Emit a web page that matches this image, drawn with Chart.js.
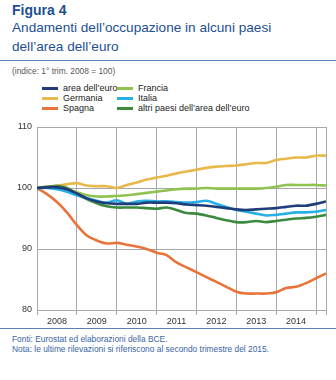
<!DOCTYPE html>
<html>
<head>
<meta charset="utf-8">
<script src="https://cdn.jsdelivr.net/npm/chart.js@4"></script>
<style>
  body { margin:0; width:336px; height:380px; background:#fff; font-family:"Liberation Sans", Arial, sans-serif; position:relative; overflow:hidden; }
  .abs { position:absolute; white-space:nowrap; }
  #fig { left:12px; top:2px; font-size:14px; font-weight:bold; color:#1d4f91; }
  #t1 { left:12px; top:20px; font-size:13.6px; color:#1d4f91; }
  #t2 { left:12px; top:39px; font-size:13.6px; color:#1d4f91; }
  #rule1 { left:0; top:60px; width:336px; height:1px; background:#5a7fb5; }
  #idx { left:12px; top:66px; font-size:8.4px; color:#555; }
  .leg { font-size:9px; color:#222; line-height:10px; }
  .leg i { display:inline-block; width:16px; height:3px; vertical-align:middle; margin-right:5px; }
  #rule2 { left:0; top:328px; width:336px; height:1px; background:#5a7fb5; }
  .foot { left:12px; font-size:8.4px; color:#3a64a6; }
  #chartBox { position:absolute; left:0; top:116px; width:336px; height:214px; }
</style>
</head>
<body>
<div class="abs" id="fig">Figura 4</div>
<div class="abs" id="t1">Andamenti dell’occupazione in alcuni paesi</div>
<div class="abs" id="t2">dell’area dell’euro</div>
<div class="abs" id="rule1"></div>
<div class="abs" id="idx">(indice: 1° trim. 2008 = 100)</div>
<div id="legend"></div>
<div class="abs" id="rule2"></div>
<div class="abs foot" style="top:334px">Fonti: Eurostat ed elaborazioni della BCE.</div>
<div class="abs foot" style="top:344px">Nota: le ultime rilevazioni si riferiscono al secondo trimestre del 2015.</div>
<div id="chartBox"><canvas id="c" width="336" height="214"></canvas></div>
<script>
// quarters 2008 Q1 .. 2015 Q2
const years = ["2008","2009","2010","2011","2012","2013","2014"];
const areaEuro = [100,100.1,100.1,99.8,99.1,98.3,97.8,97.5,97.4,97.4,97.4,97.6,97.6,97.6,97.5,97.3,97.2,97.1,96.9,96.7,96.5,96.4,96.5,96.6,96.7,96.9,97.1,97.1,97.4,97.8];
const germania = [100,100.2,100.4,100.6,100.8,100.4,100.3,100.3,100.0,100.5,100.9,101.4,101.7,102.0,102.4,102.7,103.0,103.3,103.5,103.6,103.7,103.9,104.1,104.1,104.6,104.8,105.0,105.0,105.3,105.3];
const spagna = [100,99.0,97.7,96.0,93.9,92.2,91.4,90.9,91.0,90.7,90.4,90.0,89.4,89.0,87.8,87.0,86.2,85.4,84.6,83.8,83.0,82.7,82.7,82.7,82.9,83.6,83.8,84.4,85.2,86.0];
const francia = [100,100.1,100.2,99.8,99.3,98.8,98.6,98.6,98.7,98.8,99.0,99.2,99.4,99.6,99.8,99.9,99.9,100.0,99.9,99.9,99.9,99.9,99.9,100.0,100.2,100.5,100.5,100.5,100.5,100.4];
const italia = [100,100.0,99.8,99.4,98.8,98.3,97.9,97.6,98.0,97.4,97.8,97.9,97.8,97.8,97.7,97.6,97.7,97.9,97.4,96.9,96.4,96.1,95.8,95.5,95.6,95.8,96.0,96.0,96.1,96.4];
const altri = [100,100.2,100.3,100.0,99.0,98.2,97.5,97.0,96.8,96.8,96.8,96.7,96.6,96.8,96.4,95.9,95.8,95.5,95.1,94.7,94.4,94.4,94.6,94.4,94.6,94.8,95.0,95.1,95.3,95.6];

const series = [
  {label:"area dell’euro", data:areaEuro, color:"#1f3d7a", col:0, row:0},
  {label:"Germania", data:germania, color:"#e8b84a", col:0, row:1},
  {label:"Spagna", data:spagna, color:"#e8743b", col:0, row:2},
  {label:"Francia", data:francia, color:"#8fc24f", col:1, row:0},
  {label:"Italia", data:italia, color:"#27b0e6", col:1, row:1},
  {label:"altri paesi dell’area dell’euro", data:altri, color:"#3b8a3e", col:1, row:2}
];

// legend
const legend = document.getElementById("legend");
series.forEach(s => {
  const d = document.createElement("div");
  d.className = "abs leg";
  d.style.left = (s.col ? 117 : 42) + "px";
  d.style.top = (83 + s.row * 10) + "px";
  d.innerHTML = `<i style="background:${s.color}"></i>${s.label}`;
  legend.appendChild(d);
});

const drawOrder = [0,4,5,3,1,2];
const datasets = drawOrder.map(k => {
  const s = series[k];
  return {
    label: s.label,
    data: s.data.map((v,i)=>({x:i, y:v})),
    borderColor: s.color,
    borderWidth: 2.6,
    pointRadius: 0,
    tension: 0.3,
    fill: false
  };
});

new Chart(document.getElementById("c"), {
  type: "line",
  data: { datasets },
  options: {
    responsive: false,
    animation: false,
    layout: { padding: { top: 11, right: 10, left: 0, bottom: 0 } },
    plugins: { legend: { display:false }, tooltip: { enabled:false } },
    scales: {
      x: {
        type: "linear", min: 0, max: 29,
        ticks: {
          stepSize: 1, autoSkip: false, maxRotation: 0, padding: 1,
          color: "#333", font: { family:"Liberation Sans", size: 9 },
          callback: v => (v % 4 === 2 && years[(v-2)/4]) ? years[(v-2)/4] : ""
        },
        grid: {
          color: ctx => (ctx.tick && (ctx.tick.value % 4 === 0 || ctx.tick.value === 29)) ? "#a8a8a8" : "rgba(0,0,0,0)",
          tickLength: 5,
          lineWidth: 1
        },
        border: { color: "#a8a8a8" },
        afterFit: s => { s.height = 20; }
      },
      y: {
        min: 80, max: 110,
        ticks: { stepSize: 10, padding: 5, color: "#333", font: { family:"Liberation Sans", size: 9 } },
        grid: { color: "#a8a8a8", drawTicks: false },
        border: { color: "#a8a8a8" },
        afterFit: s => { s.width = 37; }
      }
    }
  }
});
</script>
</body>
</html>
